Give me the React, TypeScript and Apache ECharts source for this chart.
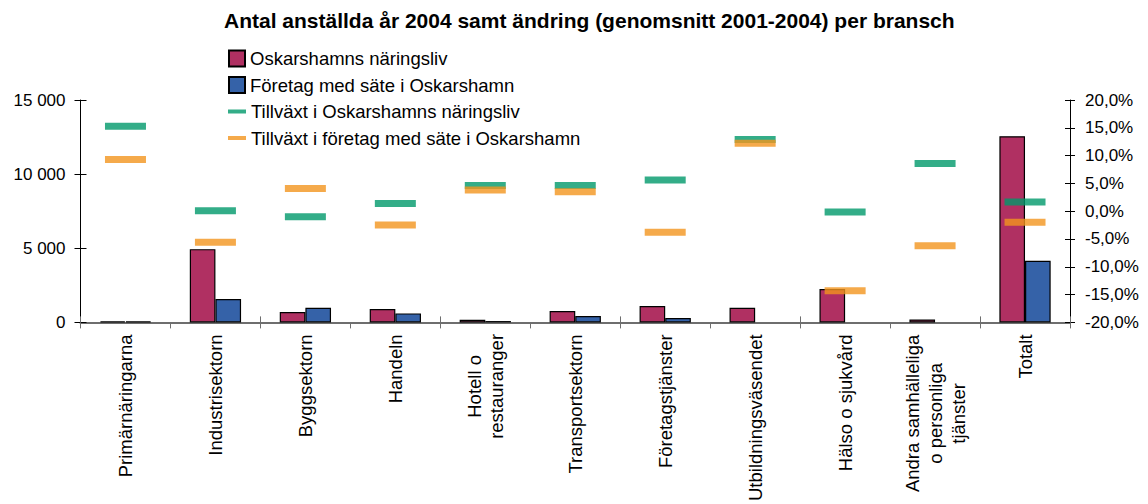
import React, { useEffect, useRef } from "react";
import * as echarts from "echarts";

const categories = [
  "Primärnäringarna",
  "Industrisektorn",
  "Byggsektorn",
  "Handeln",
  "Hotell o\nrestauranger",
  "Transportsektorn",
  "Företagstjänster",
  "Utbildningsväsendet",
  "Hälso o sjukvård",
  "Andra samhälleliga\no personliga\ntjänster",
  "Totalt",
];

const seriesNames = [
  "Oskarshamns näringsliv",
  "Företag med säte i Oskarshamn",
  "Tillväxt i Oskarshamns näringsliv",
  "Tillväxt i företag med säte i Oskarshamn",
];

const employeesOskarshamn = [80, 4940, 700, 900, 180, 770, 1100, 990, 2250, 200, 12560];
const employeesHQ = [60, 1575, 990, 605, 90, 430, 295, null, null, null, 4150];
const growthOskarshamn = [15.3, 0.1, -1.0, 1.4, 4.6, 4.6, 5.6, 12.9, -0.15, 8.6, 1.65];
const growthHQ = [9.3, -5.6, 4.1, -2.5, 3.8, 3.5, -3.8, 12.2, -14.3, -6.2, -2.0];

const leftTicks = { min: 0, max: 15000, interval: 5000 };
const rightTicks = { min: -20, max: 20, interval: 5 };

const FONT = "'Liberation Sans', Arial, sans-serif";
const COLORS = ["#b03062", "#3562a8", "#00996a", "#f2951e"];

export default function App() {
  const ref = useRef<HTMLDivElement>(null);
  useEffect(() => {
    if (!ref.current) return;
    const chart = echarts.init(ref.current, undefined, { renderer: "svg" });
    const grid = { left: 80.5, right: 78, top: 100, bottom: 181.3 };
    const legendBase = {
      orient: "horizontal",
      left: 223,
      textStyle: { fontSize: 18.5, color: "#000", fontFamily: FONT },
      itemGap: 5,
    };
    const catLabel = (v: string) => {
      if (v.startsWith("Hotell")) return v.split("\n").map((l) => `{h|${l}}`).join("\n");
      if (v.startsWith("Andra")) return v.split("\n").map((l) => `{a|${l}}`).join("\n");
      return v;
    };
    chart.setOption({
      animation: false,
      textStyle: { fontFamily: FONT },
      title: {
        text: "Antal anställda år 2004 samt ändring (genomsnitt 2001-2004) per bransch",
        left: 219,
        top: 5,
        textStyle: { fontSize: 21, fontWeight: "bold", color: "#000", fontFamily: FONT },
      },
      legend: [
        { ...legendBase, top: 44, data: [seriesNames[0]], icon: "rect", itemWidth: 16, itemHeight: 16 },
        { ...legendBase, top: 70.5, data: [seriesNames[1]], icon: "rect", itemWidth: 16, itemHeight: 16 },
        { ...legendBase, top: 97, data: [seriesNames[2]], icon: "rect", itemWidth: 18, itemHeight: 4 },
        { ...legendBase, top: 123.5, data: [seriesNames[3]], icon: "rect", itemWidth: 18, itemHeight: 4 },
      ],
      grid,
      xAxis: [
        {
          type: "category",
          data: categories,
          position: "bottom",
          axisLine: { onZero: false, lineStyle: { color: "#6e6e6e", width: 2 } },
          axisTick: { show: true, length: 6, lineStyle: { color: "#6e6e6e" } },
          axisLabel: {
            rotate: 90,
            interval: 0,
            margin: 12,
            fontSize: 18.5,
            color: "#000",
            fontFamily: FONT,
            lineHeight: 22,
            formatter: catLabel,
            rich: {
              h: { width: 104, align: "center", fontSize: 18.5, lineHeight: 22, fontFamily: FONT, color: "#000" },
              a: { width: 158, align: "center", fontSize: 18.5, lineHeight: 23, fontFamily: FONT, color: "#000" },
            },
          },
        },
        {
          type: "category",
          data: categories,
          position: "bottom",
          offset: 0,
          axisLine: { show: false, onZero: false },
          axisTick: { show: true, inside: true, length: 6, lineStyle: { color: "#6e6e6e" } },
          axisLabel: { show: false },
        },
      ],
      yAxis: [
        {
          type: "value",
          position: "left",
          ...leftTicks,
          splitLine: { show: false },
          axisLine: { show: true, lineStyle: { color: "#000" } },
          axisTick: { show: true, length: 6, lineStyle: { color: "#000" } },
          axisLabel: {
            margin: 15,
            fontSize: 17,
            color: "#000",
            fontFamily: FONT,
            formatter: (v: number) => String(v).replace(/\B(?=(\d{3})+(?!\d))/g, " "),
          },
        },
        {
          type: "value",
          position: "right",
          ...rightTicks,
          splitLine: { show: false },
          axisLine: { show: true, lineStyle: { color: "#000" } },
          axisTick: { show: true, length: 5, lineStyle: { color: "#000" } },
          axisLabel: {
            margin: 15,
            fontSize: 17,
            color: "#000",
            fontFamily: FONT,
            formatter: (v: number) => v.toFixed(1).replace(".", ",") + "%",
          },
        },
        {
          type: "value",
          position: "left",
          offset: 0,
          ...leftTicks,
          splitLine: { show: false },
          axisLine: { show: false },
          axisTick: { show: true, inside: true, length: 6, lineStyle: { color: "#000" } },
          axisLabel: { show: false },
        },
        {
          type: "value",
          position: "right",
          offset: 0,
          ...rightTicks,
          splitLine: { show: false },
          axisLine: { show: false },
          axisTick: { show: true, inside: true, length: 5, lineStyle: { color: "#000" } },
          axisLabel: { show: false },
        },
      ],
      series: [
        {
          name: seriesNames[0],
          type: "bar",
          data: employeesOskarshamn,
          yAxisIndex: 0,
          barGap: "0%",
          barCategoryGap: "43%",
          itemStyle: { color: COLORS[0], borderColor: "#000", borderWidth: 1.2 },
        },
        {
          name: seriesNames[1],
          type: "bar",
          data: employeesHQ,
          yAxisIndex: 0,
          barGap: "0%",
          barCategoryGap: "43%",
          itemStyle: { color: COLORS[1], borderColor: "#000", borderWidth: 1.2 },
        },
        {
          name: seriesNames[2],
          type: "scatter",
          data: growthOskarshamn,
          yAxisIndex: 1,
          symbol: "rect",
          symbolSize: [41, 7],
          itemStyle: { color: COLORS[2] },
        },
        {
          name: seriesNames[3],
          type: "scatter",
          data: growthHQ,
          yAxisIndex: 1,
          symbol: "rect",
          symbolSize: [41, 7],
          itemStyle: { color: COLORS[3] },
        },
      ],
    });
    return () => chart.dispose();
  }, []);
  return (
    <div
      ref={ref}
      style={{ position: "absolute", left: 0, top: 0, width: 1148, height: 504, background: "#fff" }}
    />
  );
}
